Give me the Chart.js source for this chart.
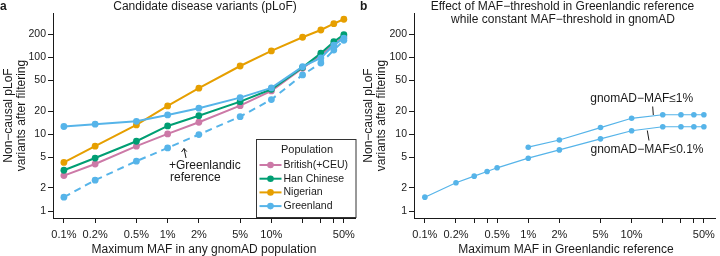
<!DOCTYPE html>
<html>
<head>
<meta charset="utf-8">
<script src="https://cdn.jsdelivr.net/npm/chart.js@4.4.1/dist/chart.umd.min.js"></script>
<style>
  html, body { margin: 0; padding: 0; background: #fff; }
  #wrap { position: relative; width: 720px; height: 256px; }
  canvas { position: absolute; top: 0; }
  #panelA { left: 0; }
  #panelB { left: 360px; }
</style>
</head>
<body>
<div id="wrap">
  <canvas id="panelA" width="360" height="256"></canvas>
  <canvas id="panelB" width="360" height="256"></canvas>
</div>
<script>
// panel a: max MAF in any gnomAD population (%) vs non-causal pLoF count
const mafA = [0.1, 0.2, 0.5, 1, 2, 5, 10, 20, 30, 40, 50];
const british = [2.9, 4.1, 7.0, 10.1, 14.3, 23.5, 36.5, 72, 107, 146, 186];
const hanChinese = [3.4, 4.9, 8.1, 12.8, 17.4, 26.5, 38.4, 74, 113, 159, 197];
const nigerian = [4.3, 7.0, 13.2, 23.3, 39.6, 77, 121, 182, 226, 273, 312];
const greenland = [12.6, 13.5, 14.7, 17.8, 21.8, 29.9, 40, 75.5, 98, 144, 177];
const greenlandRef = [1.52, 2.53, 4.46, 6.64, 9.9, 16.9, 28.2, 59, 84, 124, 166];

// panel b: max MAF in Greenlandic reference (%), two gnomAD cut-offs
const mafB = [0.1, 0.2, 0.3, 0.4, 0.5, 1, 2, 5, 10, 20, 30, 40, 50];
const gnomad01 = [1.52, 2.34, 2.85, 3.28, 3.66, 4.88, 6.25, 8.7, 11.1, 12.5, 12.5, 12.5, 12.5];
const mafB1 = [1, 2, 5, 10, 20, 30, 40, 50];
const gnomad1 = [6.78, 8.4, 12.2, 16.1, 17.9, 17.9, 17.9, 17.9];

// axis ticks
const xTicksA = [0.1, 0.2, 0.5, 1, 2, 5, 10, 20, 30, 40, 50];
const xLabelsA = ['0.1%', '0.2%', '0.5%', '1%', '2%', '5%', '10%', '', '', '', '50%'];
const xTicksB = [0.1, 0.2, 0.3, 0.4, 0.5, 1, 2, 5, 10, 20, 30, 40, 50];
const xLabelsB = ['0.1%', '0.2%', '', '', '0.5%', '1%', '2%', '5%', '10%', '', '', '', '50%'];
const yTicks = [1, 2, 5, 10, 20, 50, 100, 200];

const legendLabels = ['British(+CEU)', 'Han Chinese', 'Nigerian', 'Greenland'];
const COLORS = ['#CC79A7', '#009E73', '#E69F00', '#56B4E9'];

const FONT = '"Liberation Sans", Arial, Helvetica, sans-serif';
const INK = '#1a1a1a';

const pts = (xs, ys) => xs.map((x, i) => ({ x: x, y: ys[i] }));

function scales(xTicks, xLabels, yWidth) {
  return {
    x: {
      type: 'logarithmic',
      min: 0.0785,
      max: 65,
      bounds: 'data',
      afterBuildTicks: (s) => { s.ticks = xTicks.map((v) => ({ value: v })); },
      afterFit: (s) => { s.height = 38; },
      grid: { display: true, drawOnChartArea: false, drawTicks: true, tickLength: 5, color: INK, lineWidth: 1 },
      border: { display: true, color: INK, width: 1 },
      ticks: {
        autoSkip: false, maxRotation: 0, minRotation: 0, padding: 5, color: INK,
        font: { family: FONT, size: 11 },
        callback: (v, i) => xLabels[i],
      },
    },
    y: {
      type: 'logarithmic',
      min: 0.815,
      max: 376,
      bounds: 'data',
      afterBuildTicks: (s) => { s.ticks = yTicks.map((v) => ({ value: v })); },
      afterFit: (s) => { s.width = yWidth; },
      grid: { display: true, drawOnChartArea: false, drawTicks: true, tickLength: 5, color: INK, lineWidth: 1 },
      border: { display: true, color: INK, width: 1 },
      ticks: {
        autoSkip: false, padding: 2, color: INK,
        font: { family: FONT, size: 10.5 },
        callback: (v) => String(v),
      },
    },
  };
}

function text(ctx, str, x, y, opts) {
  opts = opts || {};
  ctx.save();
  ctx.font = (opts.bold ? 'bold ' : '') + (opts.size || 12) + 'px ' + FONT;
  ctx.fillStyle = INK;
  ctx.textAlign = opts.align || 'center';
  ctx.textBaseline = 'middle';
  if (opts.rotate) {
    ctx.translate(x, y);
    ctx.rotate(-Math.PI / 2);
    ctx.fillText(str, 0, 0);
  } else {
    ctx.fillText(str, x, y);
  }
  ctx.restore();
}

function segment(ctx, x1, y1, x2, y2) {
  ctx.save();
  ctx.strokeStyle = INK;
  ctx.lineWidth = 1;
  ctx.beginPath();
  ctx.moveTo(x1, y1);
  ctx.lineTo(x2, y2);
  ctx.stroke();
  ctx.restore();
}

function yTitle(ctx, area, x0) {
  const cy = (area.top + area.bottom) / 2;
  text(ctx, 'Non\u2212causal pLoF', x0, cy, { rotate: true });
  text(ctx, 'variants after filtering', x0 + 13.5, cy, { rotate: true });
}

const decorA = {
  id: 'decorA',
  afterDraw(chart) {
    const ctx = chart.ctx;
    const area = chart.chartArea;
    text(ctx, 'a', 0, 7, { bold: true, align: 'left' });
    text(ctx, 'Candidate disease variants (pLoF)', 205, 7);
    yTitle(ctx, area, 8.5);
    text(ctx, 'Maximum MAF in any gnomAD population', 204, 249.5);

    // +Greenlandic reference note with arrow
    text(ctx, '+Greenlandic', 169, 166, { align: 'left' });
    text(ctx, 'reference', 170, 178, { align: 'left' });
    segment(ctx, 186, 158, 184, 148.5);
    segment(ctx, 184, 148.5, 181.5, 152);
    segment(ctx, 184, 148.5, 186.8, 151.6);

    // legend box
    ctx.save();
    ctx.fillStyle = '#fff';
    ctx.strokeStyle = '#333';
    ctx.lineWidth = 1;
    ctx.fillRect(257, 139.5, 99, 78);
    ctx.strokeRect(256.5, 139.5, 99.5, 78);
    ctx.restore();
    text(ctx, 'Population', 307, 149.5, { size: 11 });
    legendLabels.forEach((lab, i) => {
      const y = 165 + i * 13.7;
      ctx.save();
      ctx.strokeStyle = COLORS[i];
      ctx.fillStyle = COLORS[i];
      ctx.lineWidth = 2;
      ctx.beginPath();
      ctx.moveTo(259.5, y);
      ctx.lineTo(281.5, y);
      ctx.stroke();
      ctx.beginPath();
      ctx.arc(270.5, y, 3.3, 0, Math.PI * 2);
      ctx.fill();
      ctx.restore();
      text(ctx, lab, 283.5, y, { align: 'left', size: 10.5 });
    });
  },
};

const decorB = {
  id: 'decorB',
  afterDraw(chart) {
    const ctx = chart.ctx;
    const area = chart.chartArea;
    text(ctx, 'b', 0, 7, { bold: true, align: 'left' });
    text(ctx, 'Effect of MAF\u2212threshold in Greenlandic reference', 202.5, 6.5);
    text(ctx, 'while constant MAF\u2212threshold in gnomAD', 203, 20);
    yTitle(ctx, area, 8.5);
    text(ctx, 'Maximum MAF in Greenlandic reference', 206, 249.5);

    text(ctx, 'gnomAD\u2212MAF\u22641%', 281.7, 98.5);
    segment(ctx, 292.7, 106.5, 293.3, 115);
    text(ctx, 'gnomAD\u2212MAF\u22640.1%', 287, 150);
    segment(ctx, 287.3, 130.5, 289, 140.5);
  },
};

function lineSet(label, data, color, extra) {
  return Object.assign({
    label: label,
    data: data,
    borderColor: color,
    backgroundColor: color,
    borderWidth: 2,
    pointRadius: 3.4,
    pointHoverRadius: 3.4,
    pointBorderWidth: 0,
    tension: 0,
    fill: false,
  }, extra || {});
}

new Chart(document.getElementById('panelA'), {
  type: 'line',
  data: {
    datasets: [
      lineSet('British(+CEU)', pts(mafA, british), COLORS[0], { order: 3 }),
      lineSet('Han Chinese', pts(mafA, hanChinese), COLORS[1], { order: 2 }),
      lineSet('Nigerian', pts(mafA, nigerian), COLORS[2], { order: 4 }),
      lineSet('Greenland', pts(mafA, greenland), COLORS[3], { order: 0 }),
      lineSet('+Greenlandic reference', pts(mafA, greenlandRef), COLORS[3], { order: 1, borderDash: [7, 5] }),
    ],
  },
  options: {
    responsive: false,
    animation: false,
    layout: { padding: { top: 13, right: 2, left: 0, bottom: 0 } },
    plugins: { legend: { display: false }, title: { display: false }, tooltip: { enabled: false } },
    scales: scales(xTicksA, xLabelsA, 53),
  },
  plugins: [decorA],
});

new Chart(document.getElementById('panelB'), {
  type: 'line',
  data: {
    datasets: [
      lineSet('gnomAD-MAF<=1%', pts(mafB1, gnomad1), COLORS[3], { borderWidth: 1.2, pointRadius: 2.8, pointHoverRadius: 2.8 }),
      lineSet('gnomAD-MAF<=0.1%', pts(mafB, gnomad01), COLORS[3], { borderWidth: 1.2, pointRadius: 2.8, pointHoverRadius: 2.8 }),
    ],
  },
  options: {
    responsive: false,
    animation: false,
    layout: { padding: { top: 13, right: 2, left: 0, bottom: 0 } },
    plugins: { legend: { display: false }, title: { display: false }, tooltip: { enabled: false } },
    scales: scales(xTicksB, xLabelsB, 54),
  },
  plugins: [decorB],
});
</script>
</body>
</html>
